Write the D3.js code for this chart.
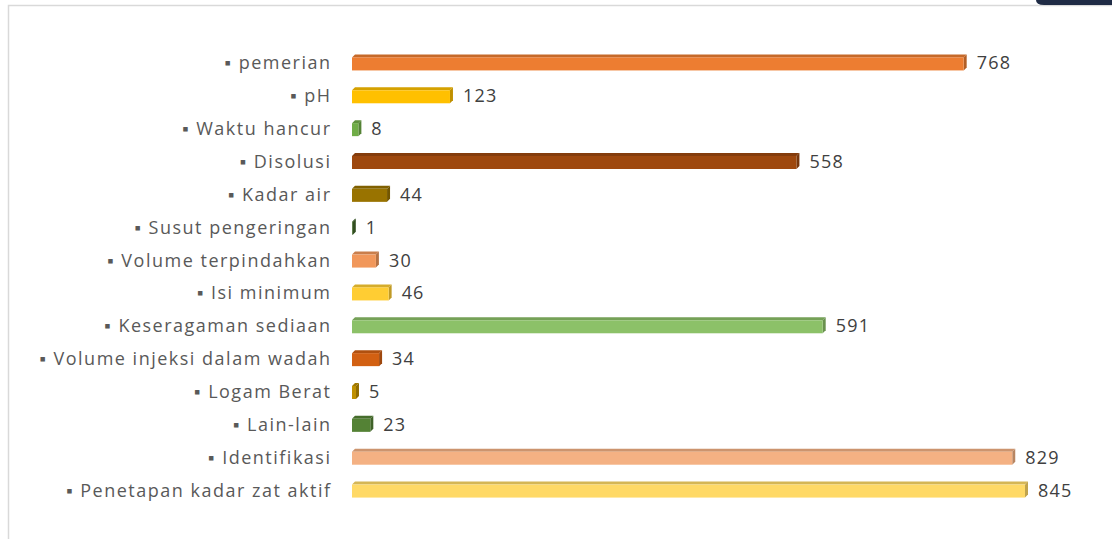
<!DOCTYPE html>
<html><head><meta charset="utf-8">
<script src="https://cdn.jsdelivr.net/npm/d3@7"></script>
<style>html,body{margin:0;padding:0;background:#fff;}svg{display:block;}</style>
</head><body>
<svg id="chart" width="1112" height="539"></svg>
<script>
const categories = ["pemerian","pH","Waktu hancur","Disolusi","Kadar air","Susut pengeringan","Volume terpindahkan","Isi minimum","Keseragaman sediaan","Volume injeksi dalam wadah","Logam Berat","Lain-lain","Identifikasi","Penetapan kadar zat aktif"];
const values = [768,123,8,558,44,1,30,46,591,34,5,23,829,845];
const colors = ["#ED7D31","#FFC000","#70AD47","#9E480E","#997300","#43682B","#F1975A","#FFCD33","#8CC168","#D26012","#BF9000","#548235","#F4B183","#FFD966"];

const svg = d3.select("#chart");
const W = 1112, H = 539;
// frame
svg.append("rect").attr("x",8.5).attr("y",5.5).attr("width",W).attr("height",H).attr("fill","none").attr("stroke","#d9d9d9").attr("stroke-width",1.5);
svg.append("path").attr("d","M1036,0 H1112 V5 H1044 Q1036,5 1036,0 Z").attr("fill","#1f2b45");

const x = d3.scaleLinear().domain([0,845]).range([352,1025]);
const y = d3.scaleBand().domain(categories).range([46,506]).paddingInner(0.6).paddingOuter(0.3);
const d = 3;

const g = svg.append("g");
categories.forEach((c,i)=>{
  const x0 = x(0), x1 = x(values[i]);
  const h = 13;
  const yc = y(c)+y.bandwidth()/2;
  const yt = yc - h/2 + 1.5;
  const col = d3.color(colors[i]);
  const dark = col.darker(0.5).toString();
  const darker = col.darker(0.8).toString();
  g.append("path").attr("d",`M${x0},${yt} L${x0+d},${yt-d} L${x1+d},${yt-d} L${x1},${yt} Z`).attr("fill",dark);
  g.append("path").attr("d",`M${x1},${yt} L${x1+d},${yt-d} L${x1+d},${yt+h-d} L${x1},${yt+h} Z`).attr("fill",darker);
  g.append("rect").attr("x",x0).attr("y",yt).attr("width",Math.max(0,x1-x0)).attr("height",h).attr("fill",colors[i]);
  g.append("text").attr("x",x1+d+10).attr("y",yc+7).text(values[i])
    .attr("font-family","Open Sans, sans-serif").attr("font-size",18).attr("letter-spacing",1.2).attr("fill","#404040");
  g.append("text").attr("x",331.5).attr("y",yc+7).attr("text-anchor","end").text("▪ "+c)
    .attr("font-family","Open Sans, sans-serif").attr("font-size",18).attr("letter-spacing",1.5).attr("fill","#595959");
});
</script>
</body></html>
